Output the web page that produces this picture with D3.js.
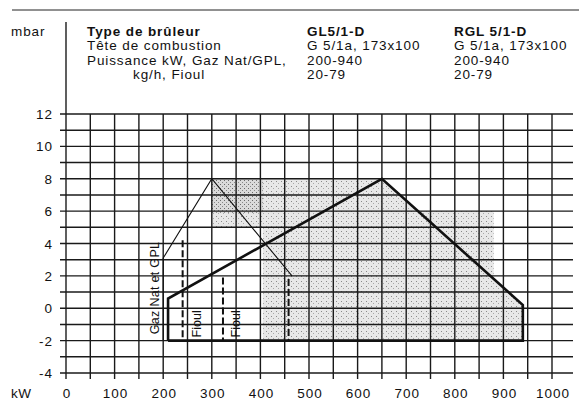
<!DOCTYPE html>
<html>
<head>
<meta charset="utf-8">
<script src="https://cdn.jsdelivr.net/npm/d3@7"></script>
<style>
  body { margin: 0; background: #fff; }
  text { font-family: "Liberation Sans", Arial, sans-serif; fill: #111; }
</style>
</head>
<body>
<script>
// ---- data ----
const kwTicks = [0, 100, 200, 300, 400, 500, 600, 700, 800, 900, 1000];
const mbarTicks = [12, 10, 8, 6, 4, 2, 0, -2, -4];

const headerRows = ["Tête de combustion", "Puissance kW, Gaz Nat/GPL,", "kg/h, Fioul"];
const burners = ["GL5/1-D", "RGL 5/1-D"];
const combustionHead = ["G 5/1a, 173x100", "G 5/1a, 173x100"];
const powerGas = ["200-940", "200-940"];
const flowFioul = ["20-79", "20-79"];

// thin envelope (gaz nat / GPL)
const gasEnvelope = [[200, -2], [200, 3.1], [300, 8], [465, 2]];
// thick envelope
const mainEnvelope = [[210, -2], [210, 0.6], [650, 8], [940, 0.2], [940, -2], [210, -2]];
// shaded (stippled) zone
const shadedZone = [[300, 8], [650, 8], [724, 6], [880, 6], [880, 1.8], [940, 0.2], [940, -2],
                    [405, -2], [405, 5], [300, 5]];
const darkZone = [[300, 8], [405, 8], [405, 5.9], [300, 5.9]];
// dashed fioul limits: [kW, top mbar]
const fioulLimits = [[240, 4.2], [323, 1.9], [458, 1.8]];
const fioulLabels = [265, 345];

const width = 579, height = 412;
const x = d3.scaleLinear().domain([0, 1000]).range([66, 552]);
const y = d3.scaleLinear().domain([-4, 12]).range([373, 114]);

const svg = d3.select("body").append("svg")
  .attr("width", width).attr("height", height)
  .attr("viewBox", [0, 0, width, height]);

const defs = svg.append("defs");
const pat = defs.append("pattern").attr("id", "stipple")
  .attr("width", 5).attr("height", 5).attr("patternUnits", "userSpaceOnUse");
pat.append("rect").attr("width", 5).attr("height", 5).attr("fill", "#e8e8e8");
pat.append("rect").attr("x", 1).attr("y", 1).attr("width", 1).attr("height", 1).attr("fill", "#8a8a8a");
pat.append("rect").attr("x", 3).attr("y", 3).attr("width", 1).attr("height", 1).attr("fill", "#a8a8a8");
const pat2 = defs.append("pattern").attr("id", "stippleDark")
  .attr("width", 4).attr("height", 4).attr("patternUnits", "userSpaceOnUse");
pat2.append("rect").attr("width", 4).attr("height", 4).attr("fill", "#dadada");
pat2.append("rect").attr("x", 0).attr("y", 0).attr("width", 1).attr("height", 1).attr("fill", "#6a6a6a");
pat2.append("rect").attr("x", 2).attr("y", 2).attr("width", 1).attr("height", 1).attr("fill", "#888");

const line = d3.line().x(d => x(d[0])).y(d => y(d[1]));

// shading
svg.append("path").attr("d", line(shadedZone) + "Z").attr("fill", "url(#stipple)");
svg.append("path").attr("d", line(darkZone) + "Z").attr("fill", "url(#stippleDark)");

// top rule
svg.append("line").attr("x1", 12).attr("x2", 579).attr("y1", 10).attr("y2", 10)
  .attr("stroke", "#222").attr("stroke-width", 1);

// grid
const grid = svg.append("g").attr("stroke", "#1a1a1a").attr("stroke-width", 1.4);
grid.selectAll("line.h").data(y.ticks(16)).join("line")
  .attr("x1", 60).attr("x2", 573)
  .attr("y1", d => y(d)).attr("y2", d => y(d));
grid.selectAll("line.v").data(x.ticks(20).filter(d => d > 0)).join("line")
  .attr("x1", d => x(d)).attr("x2", d => x(d))
  .attr("y1", y(12)).attr("y2", y(-4) + 6);
// y axis line
svg.append("line").attr("x1", x(0)).attr("x2", x(0)).attr("y1", 22).attr("y2", y(-4) + 6)
  .attr("stroke", "#1a1a1a").attr("stroke-width", 1.4);

// envelopes
svg.append("path").attr("d", line(gasEnvelope)).attr("fill", "none")
  .attr("stroke", "#111").attr("stroke-width", 1.1);
svg.append("path").attr("d", line(mainEnvelope)).attr("fill", "none")
  .attr("stroke", "#111").attr("stroke-width", 2.6).attr("stroke-linejoin", "miter");

svg.append("g").selectAll("line").data(fioulLimits).join("line")
  .attr("x1", d => x(d[0])).attr("x2", d => x(d[0]))
  .attr("y1", d => y(d[1])).attr("y2", y(-2))
  .attr("stroke", "#111").attr("stroke-width", 2).attr("stroke-dasharray", "7,3");

// rotated labels
svg.append("text").attr("transform", `translate(${x(191)},${y(-1.6)}) rotate(-90)`)
  .attr("font-size", 12.5).attr("letter-spacing", 0.3).text("Gaz Nat et GPL");
svg.selectAll("text.fioul").data(fioulLabels).join("text").attr("class", "fioul")
  .attr("transform", d => `translate(${x(d) + 6},${y(-1.8)}) rotate(-90)`)
  .attr("font-size", 12.5).text("Fioul");

// axis labels
const tickFont = { size: 13.5, spacing: 1 };
svg.append("g").selectAll("text").data(mbarTicks).join("text")
  .attr("x", 53).attr("y", d => y(d) + 5)
  .attr("text-anchor", "end").attr("font-size", tickFont.size)
  .attr("letter-spacing", tickFont.spacing).text(d => d);
svg.append("g").selectAll("text").data(kwTicks).join("text")
  .attr("x", d => x(d) + 1).attr("y", 398)
  .attr("text-anchor", "middle").attr("font-size", tickFont.size)
  .attr("letter-spacing", tickFont.spacing).text(d => d);
svg.append("text").attr("x", 11).attr("y", 398).attr("font-size", tickFont.size)
  .attr("letter-spacing", 0.5).text("kW");

// header
const hFont = 13.5, hSpace = 0.9;
svg.append("text").attr("x", 11).attr("y", 36).attr("font-size", hFont)
  .attr("letter-spacing", hSpace).text("mbar");
svg.append("text").attr("x", 87).attr("y", 36).attr("font-size", hFont)
  .attr("letter-spacing", hSpace).attr("font-weight", "bold").text("Type de brûleur");
svg.selectAll("text.hr").data(headerRows).join("text").attr("class", "hr")
  .attr("x", (d, i) => i === 2 ? 133 : 87).attr("y", (d, i) => 50 + i * 14.5)
  .attr("font-size", hFont).attr("letter-spacing", hSpace).text(d => d);

const colX = [307, 454];
burners.forEach((b, i) => {
  svg.append("text").attr("x", colX[i]).attr("y", 36).attr("font-size", hFont)
    .attr("letter-spacing", hSpace).attr("font-weight", "bold").text(b);
  [combustionHead[i], powerGas[i], flowFioul[i]].forEach((t, j) => {
    svg.append("text").attr("x", colX[i]).attr("y", 50 + j * 14.5)
      .attr("font-size", hFont).attr("letter-spacing", hSpace).text(t);
  });
});
</script>
</body>
</html>
